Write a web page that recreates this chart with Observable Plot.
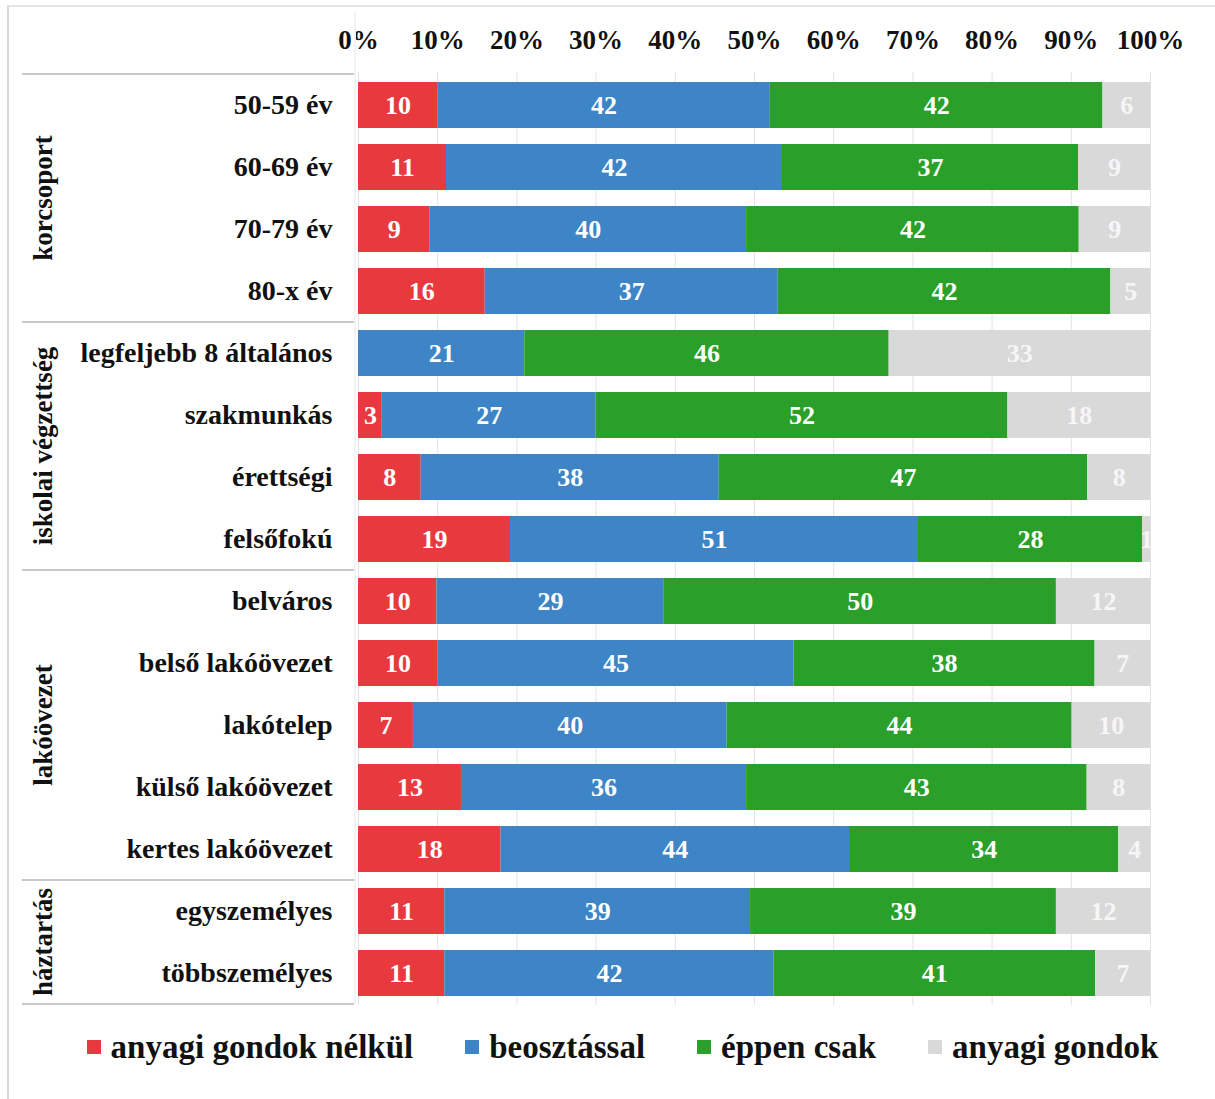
<!DOCTYPE html>
<html>
<head>
<meta charset="utf-8">
<script src="https://cdn.jsdelivr.net/npm/d3@7"></script>
<script src="https://cdn.jsdelivr.net/npm/@observablehq/plot@0.6"></script>
<style>
  html, body { margin: 0; padding: 0; background: #fff; }
  #wrap { position: relative; width: 1215px; height: 1099px; overflow: hidden; font-family: "Liberation Serif", "DejaVu Serif", serif; }
  #frame { position: absolute; left: 7px; top: 5px; width: 1220px; height: 1100px; border-left: 2px solid #d8d8d8; border-top: 2px solid #e4e4e4; box-sizing: border-box; pointer-events: none; }
  #chart { position: absolute; left: 0; top: 0; }
  #legend { position: absolute; left: 0; top: 1022px; width: 1215px; height: 50px; padding-left: 30px; box-sizing: border-box; display: flex; justify-content: center; align-items: center; gap: 0; font-weight: bold; font-size: 33px; color: #111; }
  .item { display: flex; align-items: center; margin: 0 26px; }
  .sw { width: 14px; height: 14px; margin-right: 10px; }
</style>
</head>
<body>
<div id="wrap">
  <div id="chart"></div>
  <div id="legend"></div>
  <div id="frame"></div>
</div>
<script>
// ---- data ----
const categories = [
  "50-59 év", "60-69 év", "70-79 év", "80-x év",
  "legfeljebb 8 általános", "szakmunkás", "érettségi", "felsőfokú",
  "belváros", "belső lakóövezet", "lakótelep", "külső lakóövezet", "kertes lakóövezet",
  "egyszemélyes", "többszemélyes"
];
const groupNames = ["korcsoport", "iskolai végzettség", "lakóövezet", "háztartás"];
const groupSizes = [4, 4, 5, 2];
const seriesNames = ["anyagi gondok nélkül", "beosztással", "éppen csak", "anyagi gondok"];
const seriesColors = ["#e8393f", "#3d85c6", "#2a9f2a", "#d9d9d9"];
const noProblems = [10, 11, 9, 16, 0, 3, 8, 19, 10, 10, 7, 13, 18, 11, 11];
const withBudget = [42, 42, 40, 37, 21, 27, 38, 51, 29, 45, 40, 36, 44, 39, 42];
const justEnough = [42, 37, 42, 42, 46, 52, 47, 28, 50, 38, 44, 43, 34, 39, 41];
const problems   = [6, 9, 9, 5, 33, 18, 8, 1, 12, 7, 10, 8, 4, 12, 7];
const xTicks = [0, 0.1, 0.2, 0.3, 0.4, 0.5, 0.6, 0.7, 0.8, 0.9, 1];

// ---- table for Plot ----
const seriesValues = [noProblems, withBudget, justEnough, problems];
const rows = [];
categories.forEach((c, i) => {
  seriesNames.forEach((s, j) => rows.push({cat: c, series: s, value: seriesValues[j][i]}));
});

const font = "Liberation Serif, DejaVu Serif, serif";
const W = 1215, H = 1010;
const chart = Plot.plot({
  width: W,
  height: H,
  marginLeft: 358,
  marginRight: 65,
  marginTop: 72,
  marginBottom: 5,
  style: {fontFamily: font, fontSize: "27px", fontWeight: "bold", color: "#111", background: "transparent"},
  x: {domain: [0, 1], ticks: xTicks, tickFormat: d3.format(".0%"), axis: null},
  y: {domain: categories, paddingInner: 0.26, paddingOuter: 0.13, axis: null},
  color: {domain: seriesNames, range: seriesColors},
  marks: [
    Plot.gridX(xTicks, {stroke: "#d0d0d0", strokeOpacity: 0.6}),
    Plot.barX(rows, Plot.stackX({x: "value", y: "cat", fill: "series", order: seriesNames, offset: "normalize"})),
    Plot.text(rows, Plot.stackX({
      x: "value", y: "cat", z: "series", order: seriesNames, offset: "normalize",
      text: d => d.value > 0 ? String(d.value) : "",
      fill: d => d.series === "anyagi gondok" ? "#f6f6f6" : "#fff",
      fontSize: 26, fontWeight: "bold"
    })),
    Plot.axisX({anchor: "top", ticks: xTicks, tickFormat: d3.format(".0%"), tickSize: 0, tickPadding: 24, fontSize: 27, fontWeight: "bold", fill: "#111", label: null}),
    Plot.axisY({anchor: "left", tickSize: 0, tickPadding: 26, fontSize: 28, fontWeight: "bold", fill: "#111", label: null})
  ]
});
document.getElementById("chart").appendChild(chart);

// ---- group column (separators and rotated group labels) positioned from Plot's y scale ----
const yScale = chart.scale("y");
const svg = d3.select(chart);
const step = yScale.step, bw = yScale.bandwidth;
const bandTop = c => yScale.apply(c) + bw / 2 - step / 2;
const bandBottom = c => yScale.apply(c) + bw / 2 + step / 2;
const g = svg.append("g");
let idx = 0;
const lineX1 = 22, lineX2 = 354;
g.append("line").attr("x1", lineX1).attr("x2", lineX2).attr("y1", bandTop(categories[0])).attr("y2", bandTop(categories[0]))
  .attr("stroke", "#c8c8c8").attr("stroke-width", 2);
g.append("line").attr("x1", lineX2 + 1).attr("x2", lineX2 + 1).attr("y1", 12).attr("y2", bandBottom(categories[categories.length - 1]))
  .attr("stroke", "#f3f3f3").attr("stroke-width", 2);
groupNames.forEach((name, k) => {
  const first = categories[idx], last = categories[idx + groupSizes[k] - 1];
  const y0 = bandTop(first), y1 = bandBottom(last);
  g.append("line").attr("x1", lineX1).attr("x2", lineX2).attr("y1", y1).attr("y2", y1)
    .attr("stroke", "#c8c8c8").attr("stroke-width", 2);
  const cy = (y0 + y1) / 2;
  g.append("text").attr("transform", `translate(52,${cy}) rotate(-90)`)
    .attr("text-anchor", "middle").attr("font-family", font).attr("font-weight", "bold")
    .attr("font-size", 27).attr("fill", "#111").text(name);
  idx += groupSizes[k];
});

// ---- legend ----
const legend = document.getElementById("legend");
seriesNames.forEach((s, i) => {
  const it = document.createElement("div");
  it.className = "item";
  const sw = document.createElement("div");
  sw.className = "sw";
  sw.style.background = seriesColors[i];
  const t = document.createElement("span");
  t.textContent = s;
  it.appendChild(sw); it.appendChild(t);
  legend.appendChild(it);
});
</script>
</body>
</html>
